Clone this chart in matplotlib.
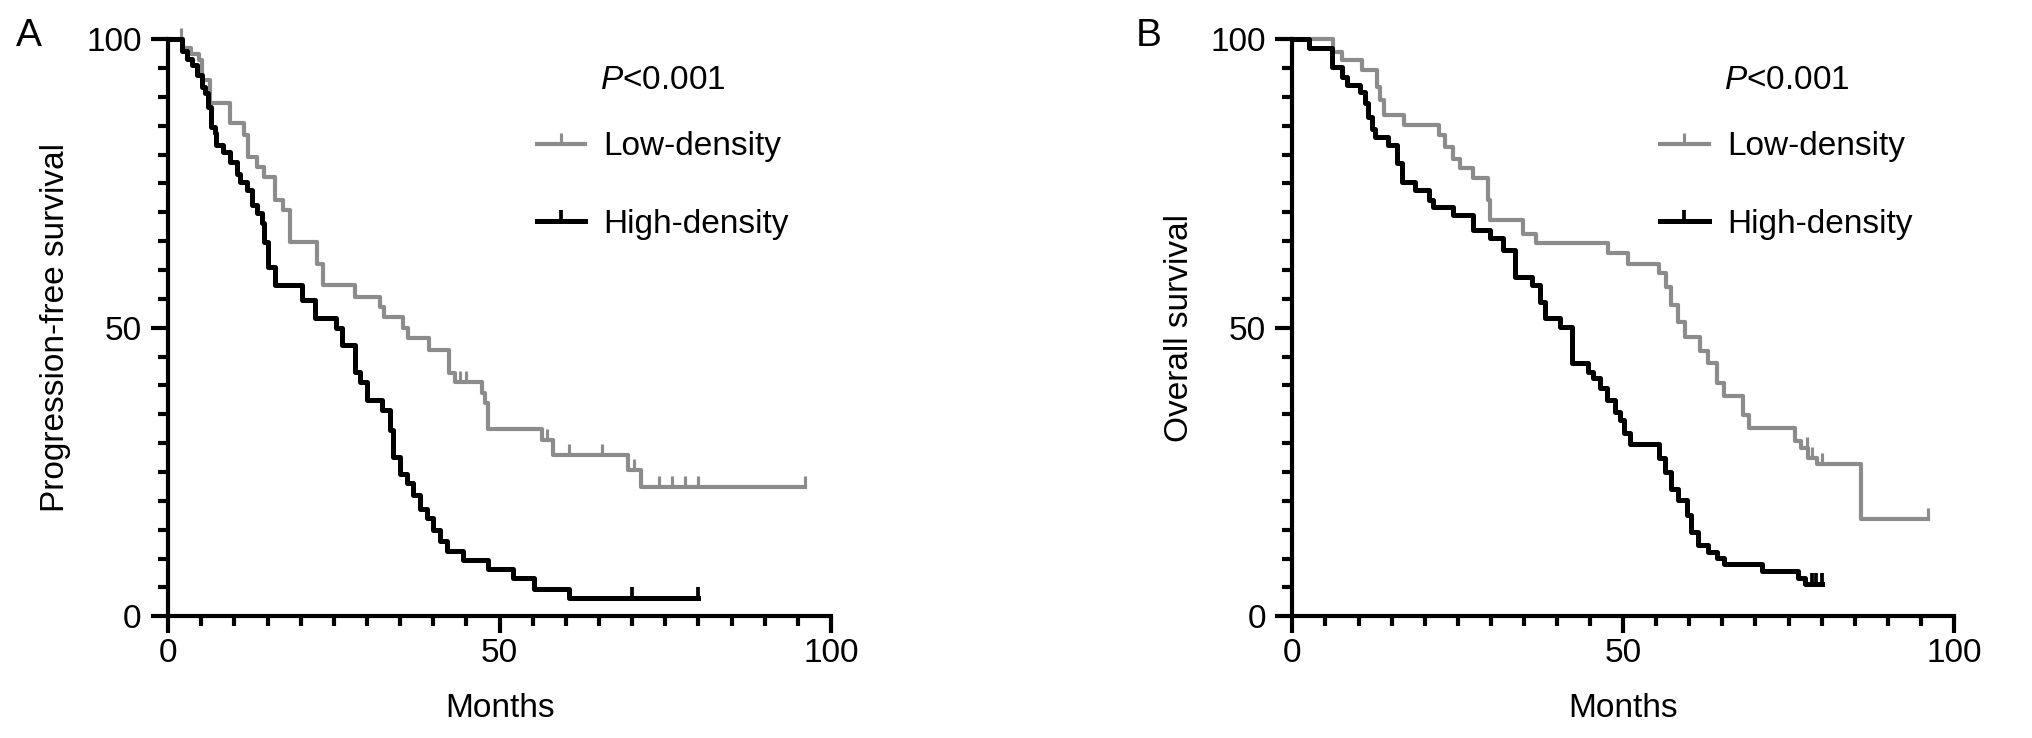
import matplotlib
matplotlib.use('Agg')
import matplotlib.pyplot as plt
from matplotlib.lines import Line2D
from matplotlib.ticker import MultipleLocator
import numpy as np

plt.rcParams['font.family'] = ['Liberation Sans', 'DejaVu Sans']
plt.rcParams['mathtext.fontset'] = 'custom'
plt.rcParams['mathtext.it'] = 'Liberation Sans:italic'
plt.rcParams['mathtext.rm'] = 'Liberation Sans'

# Panel A: progression-free survival (months, % after each event)
pfs_low_t = [0, 2.3, 3.5, 4.6, 5.1, 6.3, 9.4, 11.4, 12.1, 13.4, 14.4, 16.1, 17.4, 18.4,
             22.4, 23.4, 28.2, 32.0, 32.5, 35.5, 36.2, 39.3, 42.3, 43.3, 47.3, 47.8,
             48.3, 56.4, 58.1, 69.4, 71.4]
pfs_low_s = [100, 98.4, 97.5, 96.4, 92.9, 88.9, 85.4, 83.4, 79.6, 77.9, 76.1, 72.1, 70.4,
             64.9, 61.1, 57.4, 55.3, 53.6, 51.9, 49.9, 48.2, 46.1, 42.1, 40.6, 38.6, 36.9,
             32.5, 30.5, 27.9, 25.3, 22.4]
pfs_low_end = 96
pfs_low_cens = [2.0, 44.0, 45.0, 57.1, 60.4, 65.4, 70.2, 74.0, 76.0, 78.0, 80.0, 96.0]

pfs_high_t = [0, 2.1, 2.8, 3.6, 4.3, 5.1, 5.6, 6.1, 6.5, 7.1, 7.3, 8.3, 9.4, 10.4, 10.9,
              11.9, 12.6, 13.4, 14.1, 14.4, 15.1, 16.1, 20.2, 22.2, 25.4, 26.2, 28.2, 29.0,
              30.0, 32.2, 33.5, 34.0, 35.0, 36.0, 37.0, 38.0, 39.0, 40.0, 41.0, 42.0, 44.5,
              48.3, 52.1, 55.2, 60.4]
pfs_high_s = [100, 98, 96.6, 95.5, 93.8, 91.7, 90.6, 88.3, 84.8, 83.7, 81.6, 80.5, 78.7,
              76.7, 75.3, 73.8, 71.2, 69.8, 68.1, 64.9, 60.5, 57.4, 54.8, 51.6, 49.9, 47.0,
              42.3, 40.6, 37.4, 35.7, 32.2, 27.6, 24.7, 23.0, 21.0, 18.5, 17.0, 15.0, 13.0,
              11.3, 9.7, 8.2, 6.6, 4.8, 3.2]
pfs_high_end = 80
pfs_high_cens = [70.0, 80.0]

# Panel B: overall survival
os_low_t = [0, 6.2, 7.5, 10.5, 12.8, 13.3, 13.8, 16.8, 22.1, 23.1, 24.3, 25.3, 27.3, 29.6,
            29.9, 34.9, 36.9, 47.7, 50.7, 55.4, 56.5, 57.3, 58.3, 59.3, 61.6, 62.8, 64.2,
            65.2, 68.1, 69.0, 75.9, 76.9, 78.0, 79.3, 86.0]
os_low_s = [100, 97.8, 96.4, 94.6, 91.7, 89.4, 86.8, 85.1, 83.4, 81.3, 79.3, 77.6, 75.9,
            72.1, 68.6, 66.3, 64.6, 62.9, 61.1, 59.5, 57.0, 54.0, 51.0, 48.3, 46.0, 43.8,
            40.4, 38.2, 34.8, 32.6, 30.3, 29.2, 27.5, 26.3, 16.9]
os_low_end = 96
os_low_cens = [77.8, 78.6, 80.0, 96.0]

os_high_t = [0, 2.5, 6.0, 7.5, 8.2, 10.3, 11.0, 11.5, 12.0, 12.5, 14.5, 15.8, 16.5, 18.6,
             20.6, 21.3, 24.3, 27.3, 29.9, 31.9, 33.6, 36.2, 37.4, 38.2, 40.4, 42.2, 44.7,
             45.4, 46.5, 47.5, 48.7, 49.5, 50.2, 51.0, 55.4, 56.3, 57.3, 58.3, 59.7, 60.3,
             61.3, 62.8, 64.2, 65.2, 71.0, 76.5, 77.5]
os_high_s = [100, 98.4, 95.2, 93.5, 92.0, 90.9, 88.9, 86.5, 84.5, 83.1, 81.6, 78.5, 75.3,
             73.8, 72.1, 70.9, 69.5, 66.9, 65.5, 63.4, 58.8, 57.4, 54.5, 51.6, 50.1, 43.8,
             42.3, 41.2, 39.5, 37.4, 35.4, 34.0, 31.7, 29.9, 27.5, 25.0, 22.0, 20.2, 17.5,
             14.6, 12.4, 11.2, 10.1, 9.0, 7.9, 6.7, 5.6]
os_high_end = 80
os_high_cens = [78.5, 79.2, 80.0]

group_labels = ['Low-density', 'High-density']
p_text = '$\\mathit{P}$<0.001'

GRAY = '#8c8c8c'
BLACK = '#000000'
FS = 24
LW_GRAY = 3.0
LW_BLACK = 3.6
AXW = 3.0


def km(ax, t, s, end, cens, color, lw):
    tt = list(t) + [end]
    ss = list(s) + [s[-1]]
    ax.step(tt, ss, where='post', color=color, lw=lw, clip_on=False, zorder=3)
    idx = np.searchsorted(np.array(t), np.array(cens), side='right') - 1
    cs = np.array(s)[idx]
    ax.plot(cens, cs, linestyle='none', marker=2, markersize=8,
            markeredgewidth=lw * 0.75, color=color, clip_on=False, zorder=3)


fig = plt.figure(figsize=(20.32, 7.38), dpi=100)
axA = fig.add_axes([0.0827, 0.165, 0.3263, 0.782])
axB = fig.add_axes([0.636, 0.165, 0.3256, 0.782])

panels = [
    (axA, 'Progression-free survival',
     (pfs_low_t, pfs_low_s, pfs_low_end, pfs_low_cens),
     (pfs_high_t, pfs_high_s, pfs_high_end, pfs_high_cens)),
    (axB, 'Overall survival',
     (os_low_t, os_low_s, os_low_end, os_low_cens),
     (os_high_t, os_high_s, os_high_end, os_high_cens)),
]

for ax, ylab, low, high in panels:
    km(ax, *low, GRAY, LW_GRAY)
    km(ax, *high, BLACK, LW_BLACK)

    ax.set_xlim(0, 100)
    ax.set_ylim(0, 100)
    ax.set_xticks([0, 50, 100])
    ax.set_yticks([0, 50, 100])
    ax.xaxis.set_minor_locator(MultipleLocator(5))
    ax.yaxis.set_minor_locator(MultipleLocator(5))
    for side in ['top', 'right']:
        ax.spines[side].set_visible(False)
    for side in ['left', 'bottom']:
        ax.spines[side].set_linewidth(AXW)
    ax.tick_params(which='major', length=12, width=AXW, labelsize=FS)
    ax.tick_params(which='minor', length=7, width=AXW)
    ax.tick_params(axis='x', which='major', pad=4)
    ax.tick_params(axis='y', which='major', pad=7)
    ax.set_xlabel('Months', fontsize=FS, labelpad=17)
    ax.set_ylabel(ylab, fontsize=FS, labelpad=11)

    ax.text(0.652, 0.928, p_text, transform=ax.transAxes, fontsize=FS,
            ha='left', va='center')
    handles = [Line2D([], [], color=GRAY, lw=LW_GRAY, marker=2, markersize=8,
                      markeredgewidth=LW_GRAY * 0.75),
               Line2D([], [], color=BLACK, lw=LW_BLACK, marker=2, markersize=8,
                      markeredgewidth=LW_BLACK * 0.75)]
    ax.legend(handles, group_labels, loc='upper left', bbox_to_anchor=(0.556, 0.84),
              frameon=False, fontsize=FS, handlelength=1.45, handletextpad=0.55,
              labelspacing=1.4, borderpad=0, borderaxespad=0, numpoints=1)

fig.text(0.008, 0.975, 'A', fontsize=28, ha='left', va='top')
fig.text(0.559, 0.975, 'B', fontsize=28, ha='left', va='top')

fig.savefig('out.png', dpi=100)
